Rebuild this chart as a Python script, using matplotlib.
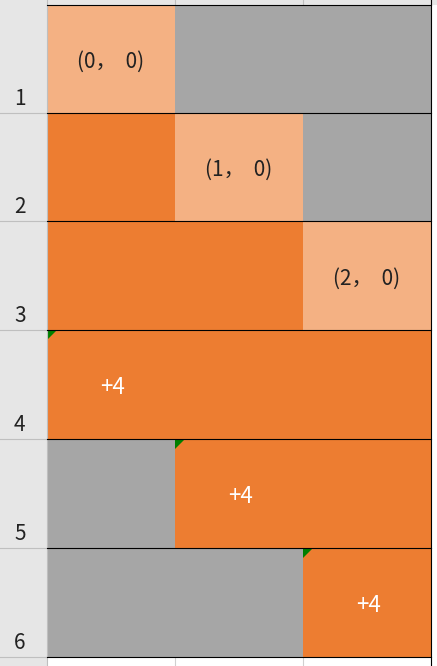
import matplotlib
matplotlib.use("Agg")
import matplotlib.pyplot as plt
from matplotlib.patches import Rectangle, Polygon

plt.rcParams['font.family'] = ['Noto Sans CJK SC', 'DejaVu Sans']

row_labels = ["1", "2", "3", "4", "5", "6"]
# cell states: 'L' light (label), 'O' orange, 'G' gray
cells = [
    ["L", "G", "G"],
    ["O", "L", "G"],
    ["O", "O", "L"],
    ["O", "O", "O"],
    ["G", "O", "O"],
    ["G", "G", "O"],
]
cell_texts = ["(0，  0)", "(1，  0)", "(2，  0)", "+4", "+4", "+4"]
text_col = [0, 1, 2, 0, 1, 2]   # column where each row's text/mark starts

colors = {"L": "#f4b183", "O": "#ed7d31", "G": "#a6a6a6"}
col_x = [47, 175, 303, 431]
row_y = [5, 113, 221, 330, 439, 548, 657]

fig = plt.figure(figsize=(4.37, 6.66), dpi=100)
ax = fig.add_axes([0, 0, 1, 1])
ax.set_xlim(0, 437)
ax.set_ylim(666, 0)
ax.axis("off")

# headers
ax.add_patch(Rectangle((0, 0), 47, 666, color="#e6e6e6", lw=0))
ax.add_patch(Rectangle((0, 0), 437, 5, color="#e6e6e6", lw=0))
for x in col_x[1:]:
    ax.plot([x, x], [0, 5], color="#bfbfbf", lw=0.8)
    ax.plot([x, x], [657, 666], color="#d0d0d0", lw=0.8)
for y in row_y[1:]:
    ax.plot([0, 47], [y, y], color="#bfbfbf", lw=0.8)
ax.plot([47, 47], [0, 666], color="#bfbfbf", lw=0.8)

for r, row in enumerate(cells):
    y0, y1 = row_y[r], row_y[r + 1]
    for c, st in enumerate(row):
        ax.add_patch(Rectangle((col_x[c], y0), col_x[c + 1] - col_x[c], y1 - y0,
                               color=colors[st], lw=0))
    ax.text(14, y1 - 3, row_labels[r], fontsize=15, ha="left", va="bottom", color="#222222")
    tc = text_col[r]
    t = cell_texts[r]
    if r < 3:
        ax.text((col_x[tc] + col_x[tc + 1]) / 2, (y0 + y1) / 2 + 3, t,
                fontsize=15, ha="center", va="center", color="#222222")
    else:
        ax.text(col_x[tc] + 66, (y0 + y1) / 2 + 3, t,
                fontsize=16, ha="center", va="center", color="white")
        ax.add_patch(Polygon([[col_x[tc], y0], [col_x[tc] + 10, y0], [col_x[tc], y0 + 10]],
                             closed=True, color="#007f00", lw=0))

for y in row_y:
    ax.plot([47, 431], [y, y], color="black", lw=0.8)
ax.plot([431, 431], [0, 666], color="black", lw=0.8)

fig.savefig("out.png", dpi=100)
